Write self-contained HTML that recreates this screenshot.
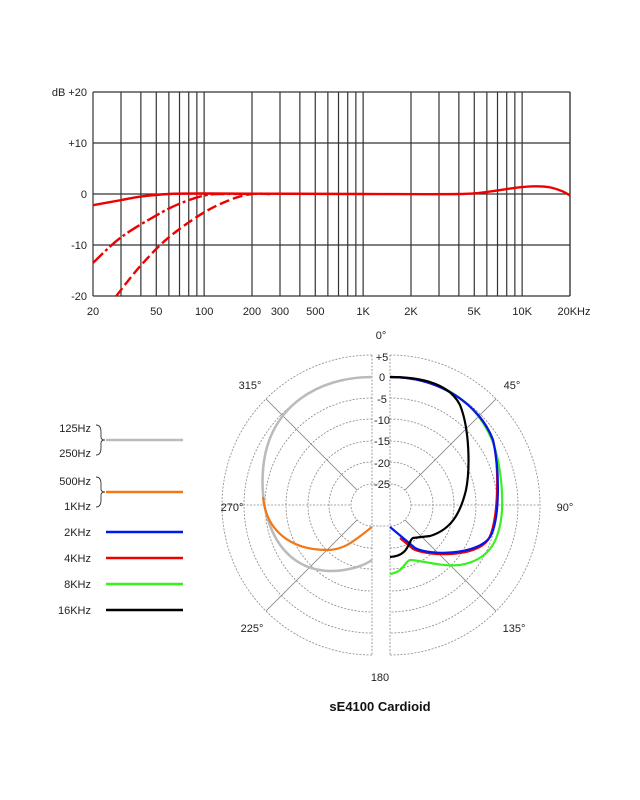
<!DOCTYPE html>
<html><head><meta charset="utf-8"><style>
body{margin:0;background:#fff;}
svg{display:block;font-family:"Liberation Sans",sans-serif;}
</style></head><body>
<svg id="s" width="640" height="800" xmlns="http://www.w3.org/2000/svg">
<g id="grid" stroke="#333" stroke-width="1.2" fill="none"></g>
<g font-size="11" fill="#222" text-anchor="end">
<text x="87" y="96">dB +20</text>
<text x="87" y="147">+10</text>
<text x="87" y="198">0</text>
<text x="87" y="249">-10</text>
<text x="87" y="300">-20</text>
</g>
<g id="xl" font-size="11" fill="#222" text-anchor="middle"></g>
<g id="curves" fill="none" stroke="#e00" stroke-width="2.4"></g>

<!-- polar -->
<g stroke="#888" stroke-width="0.8" stroke-dasharray="2,1.5" fill="none">
<path d="M372,355 A150,150 0 0 0 372,655"/><path d="M390,355 A150,150 0 0 1 390,655"/>
<path d="M372,377 A128,128 0 0 0 372,633"/><path d="M390,377 A128,128 0 0 1 390,633"/>
<path d="M372,398 A107,107 0 0 0 372,612"/><path d="M390,398 A107,107 0 0 1 390,612"/>
<path d="M372,419 A86,86 0 0 0 372,591"/><path d="M390,419 A86,86 0 0 1 390,591"/>
<path d="M372,441 A64,64 0 0 0 372,569"/><path d="M390,441 A64,64 0 0 1 390,569"/>
<path d="M372,462 A43,43 0 0 0 372,548"/><path d="M390,462 A43,43 0 0 1 390,548"/>
<path d="M372,484 A21,21 0 0 0 372,526 L390,526 A21,21 0 0 0 390,484 Z"/>
<line x1="372" y1="355" x2="372" y2="655"/><line x1="390" y1="355" x2="390" y2="655"/>
<line x1="222" y1="505" x2="351" y2="505"/><line x1="411" y1="505" x2="540" y2="505"/>
</g>
<g stroke="#777" stroke-width="0.8" fill="none">
<line x1="357" y1="490" x2="266" y2="399"/><line x1="357" y1="520" x2="266" y2="611"/>
<line x1="405" y1="490" x2="496" y2="399"/><line x1="405" y1="520" x2="496" y2="611"/>
</g>
<g font-size="11" fill="#222" text-anchor="middle">
<text x="382" y="361">+5</text><text x="382" y="381">0</text><text x="382" y="403">-5</text>
<text x="382" y="424">-10</text><text x="382" y="445">-15</text><text x="382" y="467">-20</text><text x="382" y="488">-25</text>
<text x="381" y="339">0°</text><text x="250" y="389">315°</text><text x="512" y="389">45°</text>
<text x="232" y="511">270°</text><text x="565" y="511">90°</text>
<text x="252" y="632">225°</text><text x="514" y="632">135°</text><text x="380" y="681">180</text>
</g>
<text x="380" y="711" font-size="13" font-weight="bold" text-anchor="middle" fill="#111">sE4100 Cardioid</text>
<g fill="none" stroke-width="2.2">
<path stroke="#bbb" stroke-width="2.6" d="M372,377 C320,377 268,405 263,470 C259,520 280,570 330,571 C350,571 365,565 372,560"/>
<path stroke="#f07818" d="M263,497 C266,530 290,550 327,550 C345,550 355,540 372,527"/>
<path stroke="#39f020" d="M390,377 C440,377 475,400 492,440 C500,460 503,490 502,510 C500,540 490,560 460,565 C440,567 420,560 410,560 C404,562 404,572 390,574"/>
<path stroke="#e00" d="M390,377 C440,377 480,405 493,440 C500,470 498,525 488,540 C476,557 430,557 413,549 L400,538"/>
<path stroke="#0018f0" d="M390,377 C440,377 480,405 493,440 C500,470 500,520 490,537 C478,555 430,556 415,548 L390,527"/>
<path stroke="#000" d="M390,377 C425,377 450,385 460,405 C470,430 470,470 466,490 C460,515 450,530 430,536 L413,538 C408,540 410,556 390,557"/>
</g>
<!-- legend -->
<g font-size="11" fill="#222" text-anchor="end">
<text x="91" y="432">125Hz</text><text x="91" y="457">250Hz</text>
<text x="91" y="485">500Hz</text><text x="91" y="510">1KHz</text>
<text x="91" y="536">2KHz</text><text x="91" y="562">4KHz</text>
<text x="91" y="588">8KHz</text><text x="91" y="614">16KHz</text>
</g>
<g fill="none" stroke="#333" stroke-width="0.9">
<path d="M96,425 Q101,425 101,432 L101,437 Q101,440 105,440 Q101,440 101,443 L101,448 Q101,455 96,455"/>
<path d="M96,477 Q101,477 101,484 L101,489 Q101,492 105,492 Q101,492 101,495 L101,500 Q101,507 96,507"/>
</g>
<g stroke-width="2.4">
<line x1="106" y1="440" x2="183" y2="440" stroke="#bbb"/>
<line x1="106" y1="492" x2="183" y2="492" stroke="#f07818"/>
<line x1="106" y1="532" x2="183" y2="532" stroke="#0018f0"/>
<line x1="106" y1="558" x2="183" y2="558" stroke="#e00"/>
<line x1="106" y1="584" x2="183" y2="584" stroke="#39f020"/>
<line x1="106" y1="610" x2="183" y2="610" stroke="#000"/>
</g>
</svg>
<script>
var NS="http://www.w3.org/2000/svg";
function X(f){return 93+159*Math.log10(f/20);}
function Y(d){return 194-d*5.1;}
var g=document.getElementById('grid');
function L(a,b,c,d){var l=document.createElementNS(NS,'line');l.setAttribute('x1',a);l.setAttribute('y1',b);l.setAttribute('x2',c);l.setAttribute('y2',d);g.appendChild(l);}
var fs=[];
[10,100,1000,10000].forEach(function(m){for(var k=1;k<10;k++){var f=k*m;if(f>=20&&f<=20000)fs.push(f);}});
fs.push(20000);
fs.forEach(function(f){var x=X(f);L(x,92,x,296);});
[-20,-10,0,10,20].forEach(function(d){L(93,Y(d),570,Y(d));});
var xl=document.getElementById('xl');
[[20,"20"],[50,"50"],[100,"100"],[200,"200"],[300,"300"],[500,"500"],[1000,"1K"],[2000,"2K"],[5000,"5K"],[10000,"10K"],[20000,"20KHz"]].forEach(function(p){
var t=document.createElementNS(NS,'text');var x=X(p[0]);if(p[0]==20000)x+=4;t.setAttribute('x',x);t.setAttribute('y',315);t.textContent=p[1];xl.appendChild(t);});
var cg=document.getElementById('curves');
function curve(pts,dash){
 var d="";var P=pts.map(function(p){return [X(p[0]),Y(p[1])];});
 for(var i=0;i<P.length;i++){
  if(i==0){d+="M"+P[0][0]+","+P[0][1];continue;}
  var p0=P[Math.max(i-2,0)],p1=P[i-1],p2=P[i],p3=P[Math.min(i+1,P.length-1)];
  var c1=[p1[0]+(p2[0]-p0[0])/6,p1[1]+(p2[1]-p0[1])/6];
  var c2=[p2[0]-(p3[0]-p1[0])/6,p2[1]-(p3[1]-p1[1])/6];
  d+=" C"+c1+" "+c2+" "+p2;
 }
 var p=document.createElementNS(NS,'path');p.setAttribute('d',d);if(dash)p.setAttribute('stroke-dasharray',dash);cg.appendChild(p);
}
curve([[20,-2.2],[30,-1.2],[40,-0.5],[60,0],[100,0.1],[1000,0],[4000,0],[6000,0.4],[9000,1.2],[12000,1.5],[15000,1.3],[18000,0.5],[20000,-0.3]]);
curve([[20,-13.5],[30,-8.5],[50,-4.2],[70,-1.9],[100,-0.3],[130,0],[200,0]],"14,3,3,3");
curve([[28,-20],[40,-14],[60,-8.5],[100,-3.6],[150,-1],[200,0],[260,0]],"10,4");
</script>
</body></html>
